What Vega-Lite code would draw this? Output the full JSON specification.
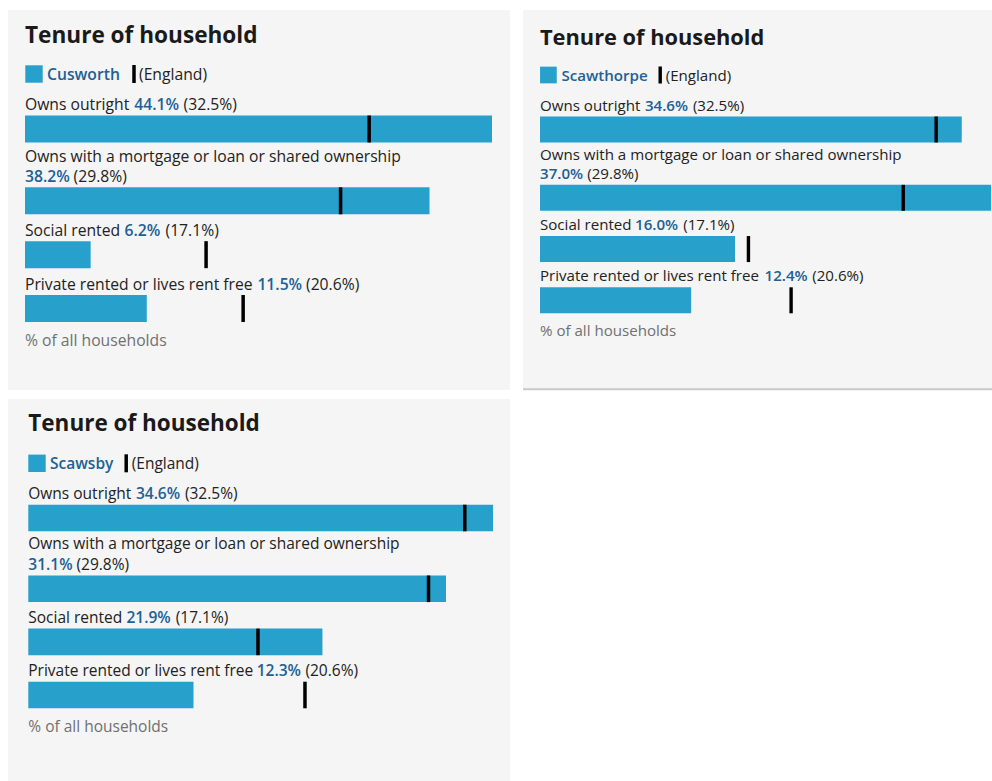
{
  "$schema": "https://vega.github.io/schema/vega-lite/v6.json",
  "padding": {"left": 8, "top": 10, "right": 0, "bottom": 0},
  "background": "#ffffff",
  "config": {"view": {"stroke": null}, "text": {"font": "Open Sans", "baseline": "alphabetic", "align": "left"}},
  "datasets": {
    "tenure": [
      {"area": "Cusworth", "category": "Owns outright", "value": 44.1, "england": 32.5},
      {"area": "Cusworth", "category": "Owns with a mortgage or loan or shared ownership", "value": 38.2, "england": 29.8},
      {"area": "Cusworth", "category": "Social rented", "value": 6.2, "england": 17.1},
      {"area": "Cusworth", "category": "Private rented or lives rent free", "value": 11.5, "england": 20.6},
      {"area": "Scawthorpe", "category": "Owns outright", "value": 34.6, "england": 32.5},
      {"area": "Scawthorpe", "category": "Owns with a mortgage or loan or shared ownership", "value": 37.0, "england": 29.8},
      {"area": "Scawthorpe", "category": "Social rented", "value": 16.0, "england": 17.1},
      {"area": "Scawthorpe", "category": "Private rented or lives rent free", "value": 12.4, "england": 20.6},
      {"area": "Scawsby", "category": "Owns outright", "value": 34.6, "england": 32.5},
      {"area": "Scawsby", "category": "Owns with a mortgage or loan or shared ownership", "value": 31.1, "england": 29.8},
      {"area": "Scawsby", "category": "Social rented", "value": 21.9, "england": 17.1},
      {"area": "Scawsby", "category": "Private rented or lives rent free", "value": 12.3, "england": 20.6}
    ]
  },
  "spacing": 8,
  "vconcat": [
    {
      "spacing": 12,
      "hconcat": [
        {
          "width": 502, "height": 380,
          "view": {"fill": "#f5f5f5", "stroke": null},
          "data": {"name": "tenure"},
          "transform": [{"filter": "datum.area === 'Cusworth'"}],
          "encoding": {
            "y": {"field": "category", "type": "nominal", "axis": null,
              "scale": {"type": "point", "padding": 0, "range": [119, 298.5],
                "domain": ["Owns outright", "s1", "s2", "s3", "Owns with a mortgage or loan or shared ownership", "s4", "s5", "Social rented", "s6", "s7", "Private rented or lives rent free"]}}
          },
          "layer": [
            {"mark": {"type": "bar", "height": 27, "color": "#27a0cc"},
             "encoding": {"x": {"field": "value", "type": "quantitative", "axis": null, "scale": {"domain": [0, 44.1], "range": [17, 484], "nice": false, "zero": true}}}},
            {"mark": {"type": "tick", "orient": "vertical", "size": 27, "thickness": 3.5, "color": "#000000", "opacity": 1},
             "encoding": {"x": {"field": "england", "type": "quantitative"}}},
            {"mark": {"type": "text", "fontSize": 15.7, "color": "#222222", "dy": {"expr": "datum.category === 'Owns with a mortgage or loan or shared ownership' ? -39 : -19"}},
             "encoding": {"x": {"datum": 0, "type": "quantitative"}, "text": {"field": "category"}}},
            {"mark": {"type": "text", "fontSize": 15.7, "fontWeight": 600, "color": "#206095", "dy": -19,
               "text": {"expr": "format(datum.value, '.1f') + '%'"},
               "dx": {"expr": "datum.category === 'Owns outright' ? 109.2 : datum.category === 'Social rented' ? 99.6 : datum.category === 'Private rented or lives rent free' ? 232.4 : 0"}},
             "encoding": {"x": {"datum": 0, "type": "quantitative"}}},
            {"mark": {"type": "text", "fontSize": 15.7, "color": "#222222", "dy": -19,
               "text": {"expr": "'(' + format(datum.england, '.1f') + '%)'"},
               "dx": {"expr": "(datum.category === 'Owns outright' ? 110 : datum.category === 'Social rented' ? 100.7 : datum.category === 'Private rented or lives rent free' ? 232.4 : 0) + (datum.value >= 10 ? 48.6 : 39.8)"}},
             "encoding": {"x": {"datum": 0, "type": "quantitative"}}},
            {"transform": [{"filter": "datum.category === 'Owns outright'"}],
             "layer": [
               {"mark": {"type": "text", "text": "Tenure of household", "fontSize": 22.6, "fontWeight": "bold", "color": "#1a1a1a", "dy": -86},
                "encoding": {"x": {"datum": 0, "type": "quantitative"}}},
               {"mark": {"type": "square", "size": 303, "filled": true, "opacity": 1, "color": "#27a0cc", "xOffset": 9, "yOffset": -55},
                "encoding": {"x": {"datum": 0, "type": "quantitative"}}},
               {"mark": {"type": "text", "fontSize": 15.7, "fontWeight": 600, "color": "#206095", "dx": 22, "dy": -49},
                "encoding": {"x": {"datum": 0, "type": "quantitative"}, "text": {"field": "area"}}},
               {"mark": {"type": "tick", "orient": "vertical", "size": 18, "thickness": 3.5, "opacity": 1, "color": "#000000", "xOffset": 109, "yOffset": -55},
                "encoding": {"x": {"datum": 0, "type": "quantitative"}}},
               {"mark": {"type": "text", "text": "(England)", "fontSize": 15.7, "color": "#222222", "dx": 114, "dy": -49},
                "encoding": {"x": {"datum": 0, "type": "quantitative"}}}
             ]},
            {"transform": [{"filter": "datum.category === 'Private rented or lives rent free'"}],
             "mark": {"type": "text", "text": "% of all households", "fontSize": 15.7, "color": "#707071", "dy": 37.5},
             "encoding": {"x": {"datum": 0, "type": "quantitative"}}}
          ]
        },
        {
          "width": 470, "height": 380,
          "view": {"fill": "#f5f5f5", "stroke": null},
          "data": {"name": "tenure"},
          "transform": [{"filter": "datum.area === 'Scawthorpe'"}],
          "encoding": {
            "y": {"field": "category", "type": "nominal", "axis": null,
              "scale": {"type": "point", "padding": 0, "range": [119.5, 290.3],
                "domain": ["Owns outright", "s1", "s2", "s3", "Owns with a mortgage or loan or shared ownership", "s4", "s5", "Social rented", "s6", "s7", "Private rented or lives rent free"]}}
          },
          "layer": [
            {"mark": {"type": "bar", "height": 26, "color": "#27a0cc"},
             "encoding": {"x": {"field": "value", "type": "quantitative", "axis": null, "scale": {"domain": [0, 37.0], "range": [17, 468], "nice": false, "zero": true}}}},
            {"mark": {"type": "tick", "orient": "vertical", "size": 26, "thickness": 3.4, "color": "#000000", "opacity": 1},
             "encoding": {"x": {"field": "england", "type": "quantitative"}}},
            {"mark": {"type": "text", "fontSize": 15.1, "color": "#222222", "dy": {"expr": "datum.category === 'Owns with a mortgage or loan or shared ownership' ? -38.3 : -19"}},
             "encoding": {"x": {"datum": 0, "type": "quantitative"}, "text": {"field": "category"}}},
            {"mark": {"type": "text", "fontSize": 15.1, "fontWeight": 600, "color": "#206095", "dy": -19,
               "text": {"expr": "format(datum.value, '.1f') + '%'"},
               "dx": {"expr": "datum.category === 'Owns outright' ? 104.9 : datum.category === 'Social rented' ? 95 : datum.category === 'Private rented or lives rent free' ? 224.5 : 0"}},
             "encoding": {"x": {"datum": 0, "type": "quantitative"}}},
            {"mark": {"type": "text", "fontSize": 15.1, "color": "#222222", "dy": -19,
               "text": {"expr": "'(' + format(datum.england, '.1f') + '%)'"},
               "dx": {"expr": "(datum.category === 'Owns outright' ? 105.7 : datum.category === 'Social rented' ? 96 : datum.category === 'Private rented or lives rent free' ? 225 : 0) + (datum.value >= 10 ? 47.2 : 38.6)"}},
             "encoding": {"x": {"datum": 0, "type": "quantitative"}}},
            {"transform": [{"filter": "datum.category === 'Owns outright'"}],
             "layer": [
               {"mark": {"type": "text", "text": "Tenure of household", "fontSize": 21.8, "fontWeight": "bold", "color": "#1a1a1a", "dy": -84.5},
                "encoding": {"x": {"datum": 0, "type": "quantitative"}}},
               {"mark": {"type": "square", "size": 279, "filled": true, "opacity": 1, "color": "#27a0cc", "xOffset": 8.4, "yOffset": -54.5},
                "encoding": {"x": {"datum": 0, "type": "quantitative"}}},
               {"mark": {"type": "text", "fontSize": 15.1, "fontWeight": 600, "color": "#206095", "dx": 21.4, "dy": -49},
                "encoding": {"x": {"datum": 0, "type": "quantitative"}, "text": {"field": "area"}}},
               {"mark": {"type": "tick", "orient": "vertical", "size": 17, "thickness": 3.4, "opacity": 1, "color": "#000000", "xOffset": 120.2, "yOffset": -54.5},
                "encoding": {"x": {"datum": 0, "type": "quantitative"}}},
               {"mark": {"type": "text", "text": "(England)", "fontSize": 15.1, "color": "#222222", "dx": 125.7, "dy": -49},
                "encoding": {"x": {"datum": 0, "type": "quantitative"}}}
             ]},
            {"transform": [{"filter": "datum.category === 'Private rented or lives rent free'"}],
             "layer": [
               {"mark": {"type": "text", "text": "% of all households", "fontSize": 15.1, "color": "#707071", "dy": 35.7},
                "encoding": {"x": {"datum": 0, "type": "quantitative"}}},
               {"mark": {"type": "rule", "color": "#c9c9c9", "strokeWidth": 2, "yOffset": 89},
                "encoding": {}}
             ]}
          ]
        }
      ]
    },
    {
      "width": 502, "height": 383,
      "view": {"fill": "#f5f5f5", "stroke": null},
      "data": {"name": "tenure"},
      "transform": [{"filter": "datum.area === 'Scawsby'"}],
      "encoding": {
        "y": {"field": "category", "type": "nominal", "axis": null,
          "scale": {"type": "point", "padding": 0, "range": [119, 296],
            "domain": ["Owns outright", "s1", "s2", "s3", "Owns with a mortgage or loan or shared ownership", "s4", "s5", "Social rented", "s6", "s7", "Private rented or lives rent free"]}}
      },
      "layer": [
        {"mark": {"type": "bar", "height": 26.6, "color": "#27a0cc"},
         "encoding": {"x": {"field": "value", "type": "quantitative", "axis": null, "scale": {"domain": [0, 34.6], "range": [20.3, 485], "nice": false, "zero": true}}}},
        {"mark": {"type": "tick", "orient": "vertical", "size": 26.6, "thickness": 3.5, "color": "#000000", "opacity": 1},
         "encoding": {"x": {"field": "england", "type": "quantitative"}}},
        {"mark": {"type": "text", "fontSize": 15.5, "color": "#222222", "dy": {"expr": "datum.category === 'Owns with a mortgage or loan or shared ownership' ? -39.5 : -19"}},
         "encoding": {"x": {"datum": 0, "type": "quantitative"}, "text": {"field": "category"}}},
        {"mark": {"type": "text", "fontSize": 15.5, "fontWeight": 600, "color": "#206095", "dy": -19,
           "text": {"expr": "format(datum.value, '.1f') + '%'"},
           "dx": {"expr": "datum.category === 'Owns outright' ? 107.6 : datum.category === 'Social rented' ? 98.2 : datum.category === 'Private rented or lives rent free' ? 228.4 : 0"}},
         "encoding": {"x": {"datum": 0, "type": "quantitative"}}},
        {"mark": {"type": "text", "fontSize": 15.5, "color": "#222222", "dy": -19,
           "text": {"expr": "'(' + format(datum.england, '.1f') + '%)'"},
           "dx": {"expr": "(datum.category === 'Owns outright' ? 108.4 : datum.category === 'Social rented' ? 99.2 : datum.category === 'Private rented or lives rent free' ? 228.9 : 0) + (datum.value >= 10 ? 48.2 : 39.4)"}},
         "encoding": {"x": {"datum": 0, "type": "quantitative"}}},
        {"transform": [{"filter": "datum.category === 'Owns outright'"}],
         "layer": [
           {"mark": {"type": "text", "text": "Tenure of household", "fontSize": 22.5, "fontWeight": "bold", "color": "#1a1a1a", "dy": -87},
            "encoding": {"x": {"datum": 0, "type": "quantitative"}}},
           {"mark": {"type": "square", "size": 303, "filled": true, "opacity": 1, "color": "#27a0cc", "xOffset": 8.7, "yOffset": -54.7},
            "encoding": {"x": {"datum": 0, "type": "quantitative"}}},
           {"mark": {"type": "text", "fontSize": 15.5, "fontWeight": 600, "color": "#206095", "dx": 21.7, "dy": -49},
            "encoding": {"x": {"datum": 0, "type": "quantitative"}, "text": {"field": "area"}}},
           {"mark": {"type": "tick", "orient": "vertical", "size": 18, "thickness": 3.5, "opacity": 1, "color": "#000000", "xOffset": 97.9, "yOffset": -54.7},
            "encoding": {"x": {"datum": 0, "type": "quantitative"}}},
           {"mark": {"type": "text", "text": "(England)", "fontSize": 15.5, "color": "#222222", "dx": 103.4, "dy": -49},
            "encoding": {"x": {"datum": 0, "type": "quantitative"}}}
         ]},
        {"transform": [{"filter": "datum.category === 'Private rented or lives rent free'"}],
         "mark": {"type": "text", "text": "% of all households", "fontSize": 15.5, "color": "#707071", "dy": 37},
         "encoding": {"x": {"datum": 0, "type": "quantitative"}}}
      ]
    }
  ]
}
